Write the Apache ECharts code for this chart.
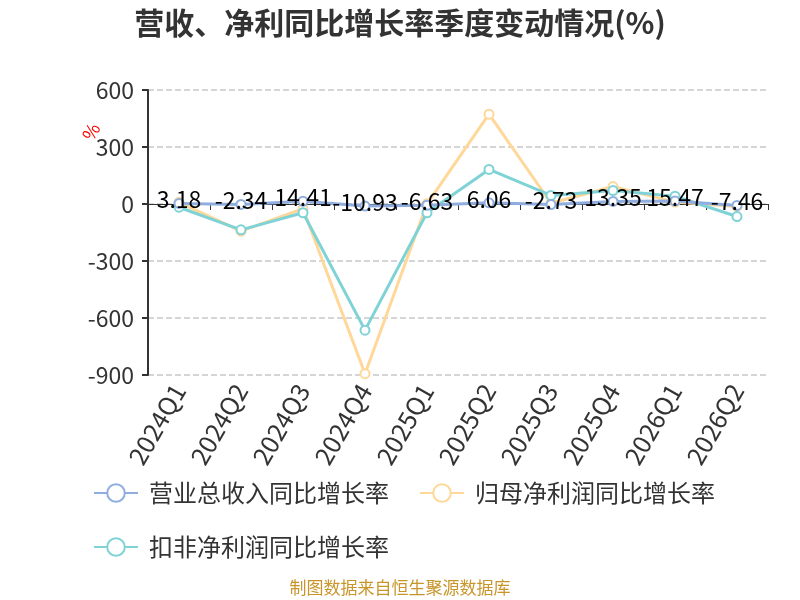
<!DOCTYPE html>
<html><head><meta charset="utf-8">
<script src="https://cdn.jsdelivr.net/npm/echarts@6/dist/echarts.min.js"></script>
<style>html,body{margin:0;padding:0;background:#fff}#c{width:800px;height:600px}</style>
</head><body><div id="c"></div>
<script>
var categories = ['2024Q1','2024Q2','2024Q3','2024Q4','2025Q1','2025Q2','2025Q3','2025Q4','2026Q1','2026Q2'];
var revenueGrowth = [3.18,-2.34,14.41,-10.93,-6.63,6.06,-2.73,13.35,15.47,-7.46];
var netProfitGrowth = [9,-143,-25,-893,1,473,4,92,10,-13];
var deductedProfitGrowth = [-17,-136,-46,-664,-46,182,45,71,41,-66];
var yTicks = {min:-900,max:600,interval:300};
var seriesNames = ['营业总收入同比增长率','归母净利润同比增长率','扣非净利润同比增长率'];

var chart = echarts.init(document.getElementById('c'));
var font = 'Noto Sans CJK SC, Noto Sans, sans-serif';
chart.setOption({
  animation:false,
  textStyle:{fontFamily:font},
  title:{text:'营收、净利同比增长率季度变动情况(%)',left:'center',top:3,
    textStyle:{fontSize:30,fontWeight:'bold',color:'#333',fontFamily:font}},
  legend:{left:88,top:476,width:680,itemWidth:44,itemHeight:22,itemGap:30,
    textStyle:{fontSize:24,color:'#333',padding:[0,0,0,6]},
    data:seriesNames},
  grid:{left:148,right:32,top:90,bottom:225},
  xAxis:[
    {type:'category',data:categories,boundaryGap:true,
     axisLine:{onZero:true,lineStyle:{color:'#333'}},
     axisTick:{show:true,length:6,lineStyle:{color:'#333'}},
     axisLabel:{show:false}},
    {type:'category',data:categories,position:'bottom',boundaryGap:true,
     axisLine:{show:false,onZero:false},axisTick:{show:false},
     axisLabel:{rotate:60,fontSize:25,color:'#333',margin:11,interval:0}}
  ],
  yAxis:{type:'value',min:yTicks.min,max:yTicks.max,interval:yTicks.interval,
    axisLine:{show:true,lineStyle:{color:'#333',width:2}},
    axisTick:{show:true,length:6,lineStyle:{color:'#333',width:2}},
    axisLabel:{fontSize:23,color:'#333',margin:14},
    splitLine:{lineStyle:{type:'dashed',color:'#c8c8c8',width:1.5}}},
  graphic:[
    {type:'text',left:79,top:120,rotation:Math.PI/3,
     style:{text:'%',fill:'#f00',fontSize:18,fontFamily:font}},
    {type:'text',left:'center',top:579,
     style:{text:'制图数据来自恒生聚源数据库',fill:'#c8952b',fontSize:17,fontFamily:font}}
  ],
  series:[
    {name:seriesNames[0],type:'line',data:revenueGrowth,xAxisIndex:0,
     symbol:'emptyCircle',symbolSize:9,
     itemStyle:{color:'#8FAEDF'},lineStyle:{width:3,color:'#8FAEDF'},
     label:{show:true,position:'inside',offset:[0,-4],fontSize:23,color:'#000'},z:5},
    {name:seriesNames[1],type:'line',data:netProfitGrowth,xAxisIndex:0,
     symbol:'emptyCircle',symbolSize:9,
     itemStyle:{color:'#FFD899'},lineStyle:{width:3,color:'#FFD899'},z:3},
    {name:seriesNames[2],type:'line',data:deductedProfitGrowth,xAxisIndex:0,
     symbol:'emptyCircle',symbolSize:9,
     itemStyle:{color:'#7FD3D6'},lineStyle:{width:3,color:'#7FD3D6'},z:4}
  ]
});
</script></body></html>
